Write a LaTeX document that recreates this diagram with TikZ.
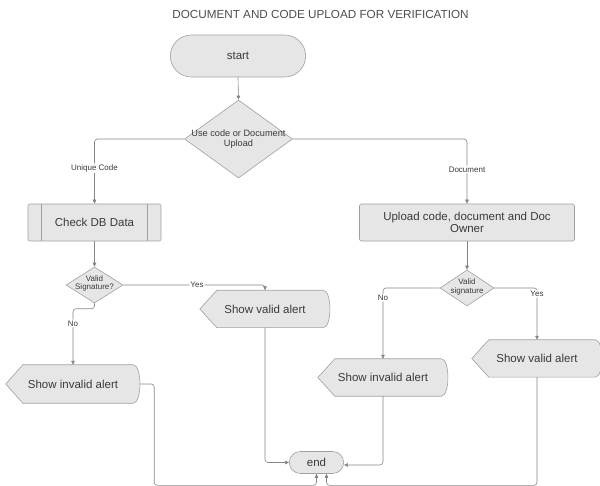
\documentclass[tikz,border=0pt]{standalone}
\usepackage{fontspec}
\setmainfont{Liberation Sans}
\usetikzlibrary{arrows.meta, positioning, shapes.geometric, shapes.misc, backgrounds}

\definecolor{boxfill}{HTML}{E6E6E6}
\definecolor{boxline}{HTML}{A0A0A0}
\definecolor{flowline}{HTML}{858585}
\definecolor{inktext}{HTML}{3A3A3A}

\begin{document}
\begin{tikzpicture}[x=1pt, y=-1pt,
                every node/.style={text=inktext},
                terminal/.style={rounded rectangle, draw=boxline, fill=boxfill, line width=0.6pt,
                                 font=\fontsize{11.5}{13}\selectfont},
                process/.style={rectangle, draw=boxline, fill=boxfill, line width=0.6pt,
                                rounded corners=2pt, minimum height=37pt, align=center,
                                font=\fontsize{11.5}{11.5}\selectfont},
                decision/.style={diamond, draw=boxline, fill=boxfill, line width=0.6pt, inner sep=0pt},
                alertbox/.style={rectangle, inner sep=0pt, minimum height=37pt,
                                 font=\fontsize{11.5}{13}\selectfont},
                flow/.style={draw=flowline, line width=0.6pt, rounded corners=3pt,
                             -{Triangle[length=4pt, width=3.6pt]}},
                tag/.style={fill=white, inner sep=1pt, font=\fontsize{8}{9}\selectfont}]

                \useasboundingbox (0,0) rectangle (600,486);

                % Title
                \node[font=\fontsize{11.7}{13}\selectfont, text=inktext!90] (title) at (320.5,14)
                    {DOCUMENT AND CODE UPLOAD FOR VERIFICATION};

                % Start and first choice
                \node[terminal, minimum width=142pt, minimum height=42pt] (start) at (238,56) {start};
                \node[decision, minimum width=108pt, minimum height=78pt,
                      label={[align=center, font=\fontsize{9.2}{10}\selectfont]center:Use code or Document\\Upload}]
                      (choice) at (238.5,139) {};

                % Unique code branch - left side
                \node[process, minimum width=133pt,
                      path picture={
                        \draw[boxline, line width=0.6pt]
                          ([xshift=13.5pt]path picture bounding box.north west) -- ([xshift=13.5pt]path picture bounding box.south west)
                          ([xshift=-13.5pt]path picture bounding box.north east) -- ([xshift=-13.5pt]path picture bounding box.south east);}]
                      (checkdb) at (94.5,222.5) {Check DB Data};
                \node[decision, minimum width=57pt, minimum height=36pt,
                      label={[align=center, font=\fontsize{8}{8.5}\selectfont, yshift=1.5pt]center:Valid\\Signature?}]
                      (sigleft) at (94.5,285) {};
                \node[alertbox, minimum width=130pt] (validleft) at (265,309) {Show valid alert};
                \node[alertbox, minimum width=134pt, minimum height=38pt] (invalidleft) at (73,384) {Show invalid alert};

                % Document branch - right side
                \node[process, minimum width=215pt] (upload) at (467,222.5) {Upload code, document and Doc\\Owner};
                \node[decision, minimum width=54pt, minimum height=36pt,
                      label={[align=center, font=\fontsize{8}{8.5}\selectfont, yshift=1pt]center:Valid\\signature}]
                      (sigright) at (467,288) {};
                \node[alertbox, minimum width=130pt] (invalidright) at (383,377.5) {Show invalid alert};
                \node[alertbox, minimum width=130pt] (validright) at (537,358.5) {Show valid alert};

                % End
                \node[terminal, minimum width=61pt, minimum height=22pt] (end) at (316.5,462.5) {end};

                % Alert outlines behind the texts
                \begin{scope}[on background layer]
                    \foreach \n in {validleft, invalidleft, invalidright, validright}
                        \draw[draw=boxline, fill=boxfill, line width=0.6pt]
                            (\n.west) -- ([xshift=17pt]\n.north west) -- ([xshift=-7pt]\n.north east)
                            .. controls ([xshift=2pt]\n.north east) and ([xshift=2pt]\n.south east)
                            .. ([xshift=-7pt]\n.south east) -- ([xshift=17pt]\n.south west) -- cycle;
                \end{scope}

                % Top connectors
                \draw[flow] (start.south) -- (choice.north);
                \draw[flow] (choice.west) -| node[tag, pos=0.725] (uniquetag) {Unique Code} (checkdb.north);
                \draw[flow] (choice.east) -| node[tag, pos=0.735] (doctag) {Document} (upload.north);

                % Left checks
                \draw[flow] (checkdb.south) -- (sigleft.north);
                \draw[flow] (sigleft.east) -| node[tag, pos=0.26] (yesleft) {Yes} (validleft.north);
                \draw[flow] (sigleft.south) -- ++(0,5.5) -| node[tag, pos=0.63] (noleft) {No} (invalidleft.north);

                % Right checks
                \draw[flow] (upload.south) -- (sigright.north);
                \draw[flow] (sigright.west) -| node[tag, pos=0.57] (noright) {No} (invalidright.north);
                \draw[flow] (sigright.east) -| node[tag, pos=0.557] (yesright) {Yes} (validright.north);

                % Into end
                \draw[flow] (validleft.south) |- (end.west);
                \draw[flow] (invalidright.south) |- ([yshift=-2.5pt]end.east);
                \draw[flow] (invalidleft.east) -- ++(14,0) |- ([yshift=-11.5pt]end.south) -- (end.south);
                \draw[flow] (validright.south) |- ([xshift=10pt, yshift=-11.5pt]end.south)
                    -- ([xshift=10pt]end.south);
            \end{tikzpicture}
\end{document}
